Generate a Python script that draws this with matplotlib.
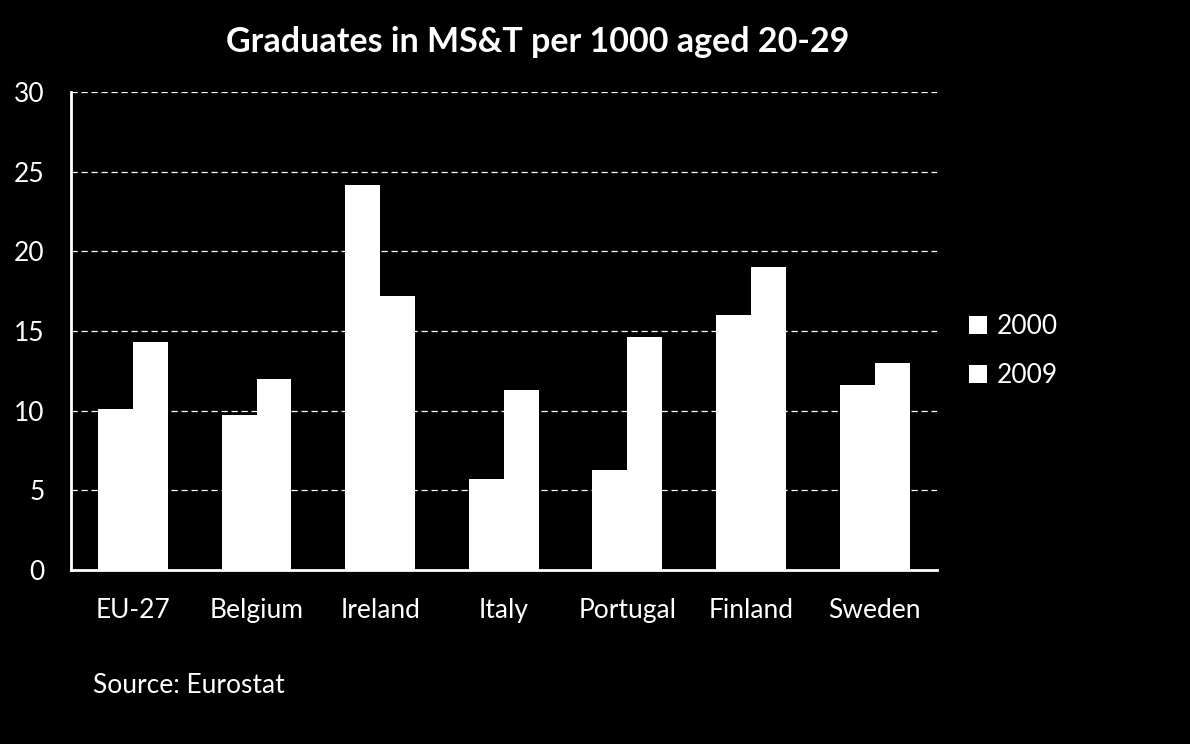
import numpy as np
import matplotlib.pyplot as plt

# Graduates in MS&T per 1000 aged 20-29
countries = ['EU-27', 'Belgium', 'Ireland', 'Italy', 'Portugal', 'Finland', 'Sweden']
y2000 = [10.1, 9.7, 24.2, 5.7, 6.3, 16.0, 11.6]
y2009 = [14.3, 12.0, 17.2, 11.3, 14.6, 19.0, 13.0]
yticks = [0, 5, 10, 15, 20, 25, 30]

plt.rcParams['font.family'] = ['Lato', 'DejaVu Sans']

fig = plt.figure(figsize=(11.9, 7.44), dpi=100, facecolor='black')
ax = fig.add_axes([0.0597, 0.234, 0.7273, 0.642], facecolor='black')

x = np.arange(len(countries))
w = 0.283
ax.bar(x - w / 2, y2000, w, color='white', label='2000', zorder=3)
ax.bar(x + w / 2, y2009, w, color='white', label='2009', zorder=3)

ax.set_xlim(-0.5, len(countries) - 0.5)
ax.set_ylim(0, 30)
ax.set_yticks(yticks)
ax.set_xticks(x)
ax.set_xticklabels(countries)
ax.tick_params(axis='both', colors='white', length=0, labelsize=19)
ax.tick_params(axis='x', pad=20)
ax.tick_params(axis='y', pad=19)

ax.yaxis.grid(True, color='white', linestyle=(0, (5, 3)), linewidth=0.9)
ax.set_axisbelow(True)
for s in ['top', 'right']:
    ax.spines[s].set_visible(False)
for s in ['left', 'bottom']:
    ax.spines[s].set_color('white')
    ax.spines[s].set_linewidth(2)

fig.text(0.452, 0.943, 'Graduates in MS&T per 1000 aged 20-29', color='white',
         fontsize=24.5, fontweight='bold', ha='center', va='center')
fig.text(0.078, 0.079, 'Source: Eurostat', color='white', fontsize=19, va='center')

leg = ax.legend(loc='center left', bbox_to_anchor=(1.01, 0.458), frameon=False,
                fontsize=19, handlelength=0.7, handleheight=0.7,
                labelspacing=0.9, handletextpad=0.35)
for t in leg.get_texts():
    t.set_color('white')

fig.savefig('out.png', facecolor='black')
